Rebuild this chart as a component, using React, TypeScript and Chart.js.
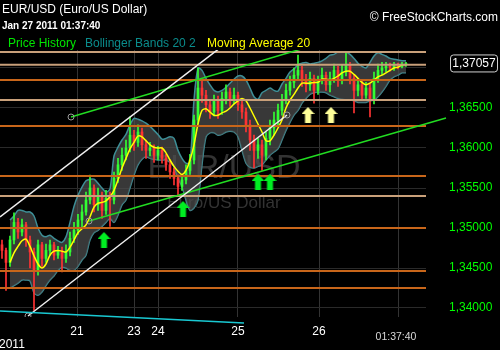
import React, { useEffect, useRef } from 'react';
import { Chart, registerables } from 'chart.js';
Chart.register(...registerables);

// ---------- data (prices of EUR/USD, candle index along x) ----------
const candleOpen = [
  1.3479, 1.3472, 1.3457, 1.3485, 1.3507, 1.3495, 1.3504, 1.3485, 1.3470, 1.3447,
  1.3479, 1.3462, 1.3472, 1.3479, 1.3466, 1.3472, 1.3462, 1.3470, 1.3487, 1.3497,
  1.3510, 1.3520, 1.3535, 1.3550, 1.3529, 1.3541, 1.3522, 1.3537, 1.3535, 1.3562,
  1.3579, 1.3591, 1.3600, 1.3616, 1.3607, 1.3620, 1.3604, 1.3597, 1.3600, 1.3591,
  1.3597, 1.3587, 1.3579, 1.3570, 1.3562, 1.3552, 1.3560, 1.3572, 1.3585, 1.3635,
  1.3675, 1.3666, 1.3654, 1.3645, 1.3660, 1.3647, 1.3662, 1.3670, 1.3660, 1.3666,
  1.3654, 1.3645, 1.3629, 1.3610, 1.3597, 1.3604, 1.3591, 1.3612, 1.3625, 1.3635,
  1.3647, 1.3660, 1.3672, 1.3682, 1.3691, 1.3697, 1.3685, 1.3679, 1.3687, 1.3672,
  1.3685, 1.3691, 1.3679, 1.3687, 1.3697, 1.3685, 1.3695, 1.3704, 1.3687, 1.3672,
  1.3679, 1.3666, 1.3675, 1.3660, 1.3687, 1.3697, 1.3700, 1.3702, 1.3701, 1.3704,
  1.3702, 1.3705,
];
const candleHigh = [
  1.3485, 1.3475, 1.3490, 1.3519, 1.3512, 1.3511, 1.3507, 1.3490, 1.3475, 1.3485,
  1.3482, 1.3480, 1.3485, 1.3482, 1.3477, 1.3476, 1.3479, 1.3495, 1.3507, 1.3517,
  1.3529, 1.3545, 1.3566, 1.3554, 1.3550, 1.3545, 1.3547, 1.3545, 1.3570, 1.3587,
  1.3600, 1.3610, 1.3639, 1.3622, 1.3629, 1.3625, 1.3610, 1.3607, 1.3604, 1.3602,
  1.3601, 1.3592, 1.3585, 1.3575, 1.3566, 1.3565, 1.3579, 1.3592, 1.3641, 1.3700,
  1.3685, 1.3672, 1.3660, 1.3666, 1.3665, 1.3670, 1.3679, 1.3675, 1.3675, 1.3670,
  1.3660, 1.3650, 1.3635, 1.3616, 1.3612, 1.3610, 1.3620, 1.3635, 1.3645, 1.3655,
  1.3667, 1.3680, 1.3690, 1.3700, 1.3716, 1.3702, 1.3692, 1.3695, 1.3691, 1.3690,
  1.3700, 1.3695, 1.3695, 1.3705, 1.3702, 1.3704, 1.3719, 1.3707, 1.3691, 1.3687,
  1.3685, 1.3682, 1.3680, 1.3695, 1.3705, 1.3707, 1.3707, 1.3706, 1.3707, 1.3706,
  1.3707, 1.3707,
];
const candleLow = [
  1.3462, 1.3422, 1.3452, 1.3480, 1.3487, 1.3490, 1.3477, 1.3450, 1.3397, 1.3441,
  1.3452, 1.3457, 1.3466, 1.3460, 1.3462, 1.3445, 1.3457, 1.3465, 1.3482, 1.3492,
  1.3500, 1.3516, 1.3530, 1.3520, 1.3522, 1.3512, 1.3517, 1.3502, 1.3530, 1.3557,
  1.3572, 1.3585, 1.3595, 1.3597, 1.3602, 1.3597, 1.3587, 1.3590, 1.3582, 1.3585,
  1.3581, 1.3572, 1.3562, 1.3554, 1.3541, 1.3547, 1.3555, 1.3567, 1.3580, 1.3630,
  1.3657, 1.3645, 1.3637, 1.3640, 1.3637, 1.3642, 1.3655, 1.3652, 1.3655, 1.3647,
  1.3637, 1.3620, 1.3597, 1.3575, 1.3587, 1.3572, 1.3585, 1.3604, 1.3616, 1.3629,
  1.3641, 1.3655, 1.3666, 1.3675, 1.3685, 1.3677, 1.3670, 1.3672, 1.3656, 1.3667,
  1.3680, 1.3672, 1.3670, 1.3682, 1.3677, 1.3680, 1.3690, 1.3680, 1.3644, 1.3665,
  1.3660, 1.3662, 1.3639, 1.3655, 1.3682, 1.3692, 1.3695, 1.3696, 1.3697, 1.3699,
  1.3700, 1.3702,
];
const candleClose = [
  1.3472, 1.3457, 1.3485, 1.3507, 1.3495, 1.3504, 1.3485, 1.3470, 1.3447, 1.3479,
  1.3462, 1.3472, 1.3479, 1.3466, 1.3472, 1.3462, 1.3470, 1.3487, 1.3497, 1.3510,
  1.3520, 1.3535, 1.3550, 1.3529, 1.3541, 1.3522, 1.3537, 1.3535, 1.3562, 1.3579,
  1.3591, 1.3600, 1.3616, 1.3607, 1.3620, 1.3604, 1.3597, 1.3600, 1.3591, 1.3597,
  1.3587, 1.3579, 1.3570, 1.3562, 1.3552, 1.3560, 1.3572, 1.3585, 1.3635, 1.3675,
  1.3666, 1.3654, 1.3645, 1.3660, 1.3647, 1.3662, 1.3670, 1.3660, 1.3666, 1.3654,
  1.3645, 1.3629, 1.3610, 1.3597, 1.3604, 1.3591, 1.3612, 1.3625, 1.3635, 1.3647,
  1.3660, 1.3672, 1.3682, 1.3691, 1.3697, 1.3685, 1.3679, 1.3687, 1.3672, 1.3685,
  1.3691, 1.3679, 1.3687, 1.3697, 1.3685, 1.3695, 1.3704, 1.3687, 1.3672, 1.3679,
  1.3666, 1.3675, 1.3660, 1.3687, 1.3697, 1.3700, 1.3702, 1.3701, 1.3704, 1.3702,
  1.3705, 1.37057,
];
const movingAverage20 = [
  null, null, 1.3457, 1.3469, 1.3477, 1.3484, 1.3486, 1.3477, 1.3465, 1.3455,
  1.3450, 1.3455, 1.3466, 1.3471, 1.3472, 1.3471, 1.3470, 1.3476, 1.3485, 1.3494,
  1.3499, 1.3504, 1.3514, 1.3526, 1.3531, 1.3532, 1.3534, 1.3539, 1.3547, 1.3560,
  1.3575, 1.3587, 1.3599, 1.3607, 1.3615, 1.3614, 1.3609, 1.3604, 1.3601, 1.3600,
  1.3600, 1.3594, 1.3585, 1.3577, 1.3571, 1.3567, 1.3572, 1.3585, 1.3604, 1.3630,
  1.3647, 1.3649, 1.3645, 1.3641, 1.3641, 1.3644, 1.3646, 1.3650, 1.3655, 1.3659,
  1.3662, 1.3659, 1.3650, 1.3640, 1.3630, 1.3620, 1.3609, 1.3609, 1.3616, 1.3625,
  1.3635, 1.3650, 1.3660, 1.3667, 1.3675, 1.3681, 1.3681, 1.3681, 1.3682, 1.3682,
  1.3686, 1.3686, 1.3685, 1.3687, 1.3690, 1.3694, 1.3696, 1.3696, 1.3692, 1.3687,
  1.3682, 1.3679, 1.3681, 1.3685, 1.3689, 1.3691, 1.3694, 1.3697, 1.3700, 1.3701,
  1.3704, 1.3704,
];
const bollingerUpper = [
  null, null, 1.3510, 1.3515, 1.3522, 1.3522, 1.3520, 1.3520, 1.3515, 1.3500,
  1.3491, 1.3489, 1.3491, 1.3487, 1.3484, 1.3482, 1.3489, 1.3507, 1.3527, 1.3541,
  1.3551, 1.3559, 1.3561, 1.3561, 1.3556, 1.3550, 1.3545, 1.3549, 1.3590, 1.3601,
  1.3610, 1.3617, 1.3629, 1.3637, 1.3636, 1.3634, 1.3631, 1.3627, 1.3622, 1.3617,
  1.3611, 1.3612, 1.3614, 1.3612, 1.3597, 1.3587, 1.3581, 1.3582, 1.3660, 1.3700,
  1.3697, 1.3687, 1.3679, 1.3672, 1.3670, 1.3672, 1.3676, 1.3681, 1.3686, 1.3690,
  1.3690, 1.3685, 1.3675, 1.3664, 1.3661, 1.3669, 1.3672, 1.3675, 1.3672, 1.3671,
  1.3680, 1.3687, 1.3695, 1.3699, 1.3704, 1.3706, 1.3707, 1.3705, 1.3706, 1.3707,
  1.3709, 1.3712, 1.3716, 1.3717, 1.3720, 1.3720, 1.3720, 1.3717, 1.3712, 1.3706,
  1.3702, 1.3700, 1.3707, 1.3715, 1.3719, 1.3717, 1.3715, 1.3712, 1.3711, 1.3710,
  1.3709, 1.3709,
];
const bollingerLower = [
  null, null, 1.3425, 1.3428, 1.3431, 1.3435, 1.3435, 1.3434, 1.3419, 1.3416,
  1.3420, 1.3428, 1.3435, 1.3440, 1.3447, 1.3451, 1.3450, 1.3447, 1.3447, 1.3452,
  1.3460, 1.3466, 1.3485, 1.3494, 1.3497, 1.3502, 1.3507, 1.3512, 1.3507, 1.3516,
  1.3529, 1.3535, 1.3550, 1.3566, 1.3579, 1.3586, 1.3589, 1.3587, 1.3586, 1.3585,
  1.3585, 1.3585, 1.3582, 1.3577, 1.3562, 1.3552, 1.3535, 1.3522, 1.3525, 1.3535,
  1.3579, 1.3614, 1.3619, 1.3619, 1.3616, 1.3617, 1.3620, 1.3621, 1.3620, 1.3614,
  1.3597, 1.3581, 1.3576, 1.3575, 1.3577, 1.3579, 1.3585, 1.3591, 1.3595, 1.3599,
  1.3610, 1.3622, 1.3632, 1.3641, 1.3647, 1.3656, 1.3662, 1.3667, 1.3669, 1.3670,
  1.3670, 1.3669, 1.3666, 1.3664, 1.3662, 1.3661, 1.3660, 1.3660, 1.3659, 1.3657,
  1.3657, 1.3657, 1.3659, 1.3660, 1.3664, 1.3670, 1.3677, 1.3685, 1.3689, 1.3691,
  1.3694, 1.3694,
];

// axis ticks
const dayTickIndex = [18.75, 33, 39, 59, 79.25, 99];
const dayTickLabels = ['21', '23', '24', '25', '26', ''];
const priceTicks = [1.34, 1.345, 1.35, 1.355, 1.36, 1.365, 1.37];
const X_MIN = -0.5;
const X_MAX = 106;
const Y_MIN = 1.338875;
const Y_MAX = 1.37225;

// horizontal support / resistance levels
const levelPrices = [1.372, 1.3704, 1.3685, 1.366, 1.36275, 1.3565, 1.354, 1.35, 1.34463, 1.3425];
const levelKinds = ['tan', 'tan', 'orange', 'tan', 'orange', 'orange', 'tan', 'orange', 'orange', 'orange'];

// trend lines (index, price)
const trendStartIdx = [-0.5, -0.5, 6.5, 17.25, 21.75];
const trendStartPrice = [1.339625, 1.351375, 1.339, 1.363875, 1.350875];
const trendEndIdx = [60.5, 55, 71.25, 75, 111];
const trendEndPrice = [1.338125, 1.3727, 1.364125, 1.3724, 1.36375];
const trendColors = ['#19c8d2', '#f0f0f0', '#f0f0f0', '#22dd22', '#22dd22'];
const trendStartHandle = [false, false, true, true, true];
const trendEndHandle = [false, false, true, false, false];
const trendUnclipped = [true, false, false, false, true];

// arrow markers
const greenArrowIdx = [25.5, 45.25, 64, 67];
const greenArrowPrice = [1.3485, 1.352375, 1.35575, 1.35575];
const yellowArrowIdx = [76.5, 82.25];
const yellowArrowPrice = [1.364125, 1.364125];

const FONT = '"Liberation Sans", Arial, sans-serif';
const GREEN = '#33ff33';
const RED = '#ff3333';
const TAN = '#c9a07a';
const ORANGE = '#c8661a';

function makeArrow(color: string) {
  const c = document.createElement('canvas');
  c.width = 13;
  c.height = 16;
  const g = c.getContext('2d')!;
  g.fillStyle = color;
  g.beginPath();
  g.moveTo(6.5, 0);
  g.lineTo(13, 7);
  g.lineTo(9.5, 7);
  g.lineTo(9.5, 16);
  g.lineTo(3.5, 16);
  g.lineTo(3.5, 7);
  g.lineTo(0, 7);
  g.closePath();
  g.fill();
  return c;
}

export default function App() {
  const ref = useRef<HTMLCanvasElement>(null);

  useEffect(() => {
    const canvas = ref.current!;
    const series = (arr: (number | null)[]) => arr.map((v, i) => ({ x: i, y: v }));
    const candleColors = candleClose.map((c, i) => (c >= candleOpen[i] ? GREEN : RED));
    const wickData = candleHigh.map((h, i) => ({ x: i, y: [candleLow[i], h] }));
    const bodyData = candleOpen.map((o, i) => ({ x: i, y: [o, candleClose[i]] }));

    const levelDatasets = levelPrices.map((p, k) => ({
      type: 'line',
      data: [{ x: X_MIN, y: p }, { x: X_MAX, y: p }],
      borderColor: levelKinds[k] === 'tan' ? TAN : ORANGE,
      borderWidth: 2,
      pointRadius: 0,
      fill: false,
      order: 6,
    }));

    const trendDatasets = trendStartIdx.map((sx, k) => ({
      type: 'line',
      data: [
        { x: sx, y: trendStartPrice[k] },
        { x: trendEndIdx[k], y: trendEndPrice[k] },
      ],
      borderColor: trendColors[k],
      borderWidth: 1.5,
      pointRadius: [trendStartHandle[k] ? 3 : 0, trendEndHandle[k] ? 3 : 0],
      pointBorderColor: '#9a9a9a',
      pointBackgroundColor: 'rgba(0,0,0,0)',
      pointBorderWidth: 1,
      fill: false,
      clip: trendUnclipped[k] ? false : undefined,
      order: 5,
    }));

    const greenArrow = makeArrow('#00ee22');
    const yellowArrow = makeArrow('#ffff99');

    const bgPlugin = {
      id: 'bg',
      beforeDraw(chart: any) {
        const { ctx } = chart;
        ctx.save();
        ctx.fillStyle = '#000';
        ctx.fillRect(0, 0, chart.width, chart.height);
        ctx.restore();
      },
      beforeDatasetsDraw(chart: any) {
        const { ctx } = chart;
        ctx.save();
        ctx.fillStyle = '#333333';
        ctx.textAlign = 'center';
        ctx.textBaseline = 'alphabetic';
        ctx.font = `34px ${FONT}`;
        ctx.fillText('EUR/USD', 224, 178);
        ctx.font = `17px ${FONT}`;
        ctx.fillText('Euro/US Dollar', 224, 208);
        ctx.restore();
      },
      afterDraw(chart: any) {
        const { ctx } = chart;
        ctx.save();
        ctx.textBaseline = 'alphabetic';
        ctx.textAlign = 'left';
        ctx.fillStyle = '#ffffff';
        ctx.font = `12px ${FONT}`;
        ctx.fillText('EUR/USD (Euro/US Dollar)', 2, 13);
        ctx.font = `bold 10px ${FONT}`;
        ctx.fillText('Jan 27 2011 01:37:40', 2, 28.5);
        ctx.font = `12px ${FONT}`;
        ctx.fillStyle = '#00e600';
        ctx.fillText('Price History', 8, 47);
        ctx.fillStyle = '#0a8c8c';
        ctx.fillText('Bollinger Bands 20 2', 85, 47);
        ctx.fillStyle = '#ffff00';
        ctx.fillText('Moving Average 20', 207, 47);
        ctx.fillStyle = '#ffffff';
        ctx.textAlign = 'right';
        ctx.fillText('\u00a9 FreeStockCharts.com', 498, 21);

        // last price box
        const last = candleClose[candleClose.length - 1];
        const py = chart.scales.y.getPixelForValue(last);
        ctx.beginPath();
        ctx.roundRect(450.5, py - 8.5, 47, 17, 3);
        ctx.fillStyle = '#000';
        ctx.fill();
        ctx.strokeStyle = '#d0d0d0';
        ctx.lineWidth = 1;
        ctx.stroke();
        ctx.fillStyle = '#ffffff';
        ctx.textAlign = 'center';
        ctx.textBaseline = 'middle';
        ctx.font = `12px ${FONT}`;
        ctx.fillText(last.toFixed(5).replace('.', ','), 474, py + 0.5);

        ctx.textBaseline = 'alphabetic';
        ctx.fillStyle = '#d8d8d8';
        ctx.font = `10.5px ${FONT}`;
        ctx.fillText('01:37:40', 396, 339.5);
        ctx.textAlign = 'left';
        ctx.fillStyle = '#ffffff';
        ctx.font = `12px ${FONT}`;
        ctx.fillText('2011', -1, 348);
        ctx.restore();
      },
    };

    const chart = new Chart(canvas, {
      type: 'bar',
      data: {
        datasets: [
          {
            type: 'line',
            data: series(bollingerUpper),
            borderColor: '#3d8e96',
            borderWidth: 1.5,
            pointRadius: 0,
            tension: 0.3,
            fill: '+1',
            backgroundColor: 'rgba(78,78,78,0.72)',
            order: 10,
          },
          {
            type: 'line',
            data: series(bollingerLower),
            borderColor: '#3d8e96',
            borderWidth: 1.5,
            pointRadius: 0,
            tension: 0.3,
            fill: false,
            order: 10,
          },
          {
            type: 'bar',
            data: wickData,
            backgroundColor: candleColors,
            barThickness: 1,
            grouped: false,
            order: 9,
          },
          {
            type: 'bar',
            data: bodyData,
            backgroundColor: candleColors,
            barThickness: 2,
            grouped: false,
            order: 8,
          },
          {
            type: 'line',
            data: series(movingAverage20),
            borderColor: '#ffff00',
            borderWidth: 1.5,
            pointRadius: 0,
            tension: 0.3,
            fill: false,
            order: 7,
          },
          ...levelDatasets,
          ...trendDatasets,
          {
            type: 'line',
            data: greenArrowIdx.map((x, i) => ({ x, y: greenArrowPrice[i] })),
            showLine: false,
            pointStyle: greenArrow,
            pointRadius: 8,
            order: 4,
          },
          {
            type: 'line',
            data: yellowArrowIdx.map((x, i) => ({ x, y: yellowArrowPrice[i] })),
            showLine: false,
            pointStyle: yellowArrow,
            pointRadius: 8,
            order: 4,
          },
        ] as any,
      },
      options: {
        responsive: false,
        animation: false,
        events: [],
        layout: { autoPadding: false, padding: { top: 50, left: 0, right: 0, bottom: 0 } },
        plugins: { legend: { display: false }, tooltip: { enabled: false } },
        scales: {
          x: {
            type: 'linear',
            position: 'bottom',
            min: X_MIN,
            max: X_MAX,
            offset: false,
            afterBuildTicks: (s: any) => {
              s.ticks = dayTickIndex.map((v) => ({ value: v }));
            },
            afterFit: (s: any) => {
              s.height = 33;
              s.paddingLeft = 0;
              s.paddingRight = 0;
            },
            grid: { color: '#333333', drawTicks: false, offset: false, lineWidth: 1 },
            border: { display: false },
            ticks: {
              color: '#ffffff',
              font: { family: FONT, size: 12 },
              padding: 7,
              maxRotation: 0,
              autoSkip: false,
              callback: (_v: any, i: number) => dayTickLabels[i],
            },
          },
          y: {
            type: 'linear',
            position: 'right',
            min: Y_MIN,
            max: Y_MAX,
            afterBuildTicks: (s: any) => {
              s.ticks = priceTicks.map((v) => ({ value: v }));
            },
            afterFit: (s: any) => {
              s.width = 74;
              s.paddingTop = 0;
              s.paddingBottom = 0;
            },
            grid: { color: '#2a2a2a', drawTicks: false },
            border: { display: false },
            ticks: {
              color: '#00ff00',
              font: { family: FONT, size: 12 },
              padding: 23,
              callback: (v: any) =>
                Math.abs(Number(v) - 1.37) < 1e-9 ? '' : Number(v).toFixed(5).replace('.', ','),
            },
          },
        } as any,
      },
      plugins: [bgPlugin],
    } as any);

    return () => chart.destroy();
  }, []);

  return (
    <div style={{ position: 'fixed', left: 0, top: 0, width: 500, height: 350, background: '#000' }}>
      <canvas ref={ref} width={500} height={350} style={{ display: 'block' }} />
    </div>
  );
}
